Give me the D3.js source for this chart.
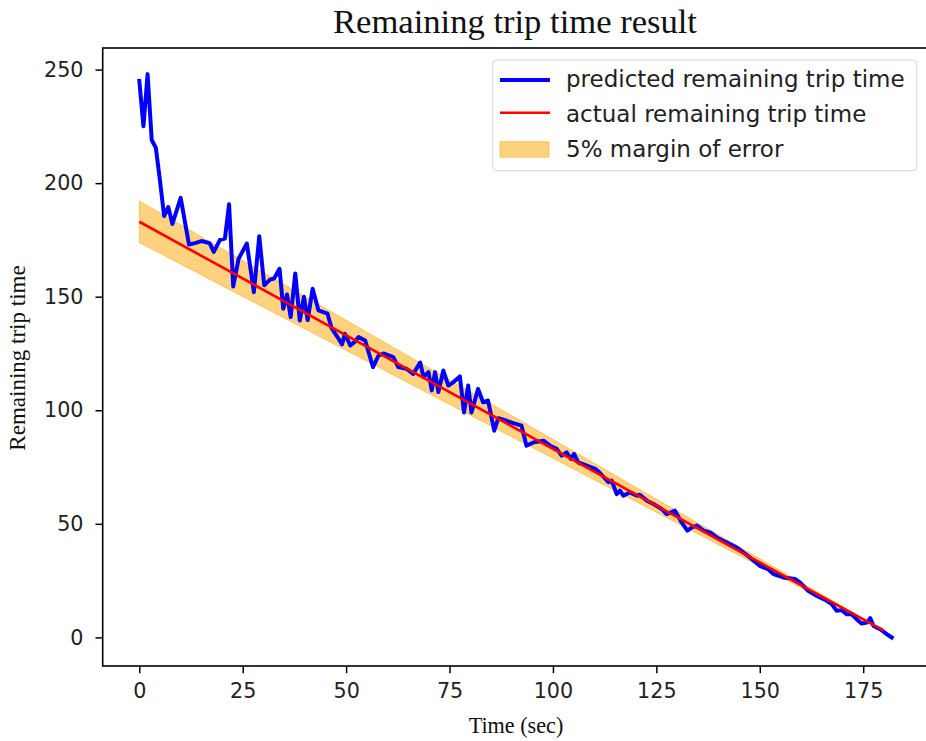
<!DOCTYPE html>
<html>
<head>
<meta charset="utf-8">
<script src="https://cdn.jsdelivr.net/npm/d3@7"></script>
<style>
  html, body { margin: 0; padding: 0; background: #fff; }
  svg { display: block; }
</style>
</head>
<body>
<svg id="chart" width="926" height="741"></svg>
<script>
// ---- data ----
const predictedTime = [0, 1, 2, 3, 4, 5, 6, 7, 8, 10, 12, 13.5, 15, 17, 18, 19.5, 20.7, 21.7, 22.7, 24, 26, 27.7, 29, 30.2, 31.6, 32.6, 33.9, 34.8, 35.7, 36.6, 37.7, 38.8, 39.8, 40.7, 41.9, 43.3, 44.5, 45.5, 46.5, 48, 49, 49.7, 51, 52, 53, 54.6, 56.5, 57.8, 59, 61.4, 62.6, 64.6, 66.2, 67.9, 68.7, 69.9, 70.7, 71.5, 72.3, 73.5, 74.7, 75.9, 77.5, 78.5, 79.5, 80.3, 81.9, 83.1, 84.3, 85.8, 86.8, 88.4, 90.4, 92.4, 93.6, 95.4, 97.7, 99.3, 100.9, 102.1, 103.3, 104.3, 105.1, 106.1, 108.2, 110.2, 111.2, 113.4, 114.2, 115.4, 116.2, 117, 118.6, 120.3, 121, 122.7, 124.3, 126.3, 127.5, 129.5, 131.1, 132.5, 133.6, 134.8, 136.4, 138, 139.6, 141.2, 142.8, 144.4, 146, 147.6, 150, 152, 153.3, 155.7, 158.5, 159.7, 161.7, 163.7, 166.2, 167.4, 168.6, 169.8, 171, 172.2, 173.4, 174.6, 175.9, 176.7, 177.5, 179.1, 180.7, 181.9];
const predictedValue = [245, 225, 248, 219, 215.5, 201, 185.5, 189.5, 182, 193.5, 173, 173.6, 174.5, 173.6, 169.7, 175, 175.6, 190.7, 154.5, 166.7, 173.4, 152, 176.6, 155, 157.5, 158, 162.3, 144.7, 151, 141, 160.2, 139.5, 150, 139.7, 153.5, 144, 143.2, 142.5, 136, 132, 129, 133.7, 128.5, 130, 132.2, 130.7, 119, 124, 125, 123.4, 119, 118.3, 116, 121, 114.6, 116.8, 108.7, 116.8, 108, 117.5, 110.9, 112.3, 114.9, 99, 110.9, 99, 109.4, 103.5, 104.3, 91, 96.5, 95.6, 94.3, 93.2, 84.4, 85.9, 86.6, 84.4, 83, 80, 81.5, 78.6, 80.8, 77, 75.6, 74.2, 72.7, 68.3, 69, 63.1, 64.6, 62.4, 63.8, 62.4, 62.8, 60.2, 58.7, 56.5, 54.3, 55.8, 50.6, 47, 48.4, 49.2, 47, 46.2, 44, 42.5, 41.1, 39.6, 37.4, 35.2, 31.5, 30, 27.9, 26.4, 25.7, 24.2, 20.5, 18.3, 16.1, 14.6, 11.7, 12, 10.2, 10.2, 8, 6.1, 6.5, 8.5, 5, 3.6, 1.4, 0];
// actual remaining trip time is a straight line: its two end points
const actualTime = [0, 180];
const actualValue = [183, 3];
const marginRate = 0.05;
const xTicks = [0, 25, 50, 75, 100, 125, 150, 175];
const yTicks = [0, 50, 100, 150, 200, 250];
const legendLabels = ["predicted remaining trip time", "actual remaining trip time", "5% margin of error"];

// ---- layout ----
const svg = d3.select("#chart");
const W = 926, H = 741;
const axL = 102.7, axR = 930.2, axT = 48, axB = 666;

const x = d3.scaleLinear().domain([-8.85, 191.2]).range([axL, axR]);
const y = d3.scaleLinear().domain([-12.6, 259.5]).range([axB, axT]);

const sans = "'DejaVu Sans', sans-serif";
const serif = "'Liberation Serif', 'Times New Roman', serif";

svg.append("rect").attr("width", W).attr("height", H).attr("fill", "#fff");

svg.append("defs").append("clipPath").attr("id", "clip")
  .append("rect").attr("x", axL).attr("y", axT).attr("width", axR - axL).attr("height", axB - axT);

const plot = svg.append("g").attr("clip-path", "url(#clip)");

const actual = actualTime.map((t, i) => ({ t, v: actualValue[i] }));
const predicted = predictedTime.map((t, i) => ({ t, v: predictedValue[i] }));

// band
plot.append("path")
  .datum(actual)
  .attr("d", d3.area().x(d => x(d.t)).y0(d => y(d.v * (1 - marginRate))).y1(d => y(d.v * (1 + marginRate))))
  .attr("fill", "orange").attr("fill-opacity", 0.5).attr("stroke", "orange").attr("stroke-opacity", 0.5).attr("stroke-width", 1);

// predicted
plot.append("path")
  .datum(predicted)
  .attr("d", d3.line().x(d => x(d.t)).y(d => y(d.v)))
  .attr("fill", "none").attr("stroke", "#0000ff").attr("stroke-width", 4)
  .attr("stroke-linejoin", "round").attr("stroke-linecap", "square");

// actual
plot.append("path")
  .datum(actual)
  .attr("d", d3.line().x(d => x(d.t)).y(d => y(d.v)))
  .attr("fill", "none").attr("stroke", "#ff0000").attr("stroke-width", 2.6);

// axes
const xAxis = d3.axisBottom(x).tickValues(xTicks).tickSize(7.2).tickPadding(10).tickFormat(d3.format("d"));
const yAxis = d3.axisLeft(y).tickValues(yTicks).tickSize(7.2).tickPadding(12).tickFormat(d3.format("d"));

const gx = svg.append("g").attr("transform", `translate(0,${axB})`).call(xAxis);
const gy = svg.append("g").attr("transform", `translate(${axL},0)`).call(yAxis);
[gx, gy].forEach(g => {
  g.select(".domain").remove();
  g.selectAll(".tick line").attr("stroke", "#000").attr("stroke-width", 1.5);
  g.selectAll(".tick text").attr("fill", "#222").style("font-family", sans).style("font-size", "20.7px");
});

// spines
const spine = svg.append("g").attr("fill", "none").attr("stroke", "#000").attr("stroke-width", 1.6);
spine.append("rect").attr("x", axL).attr("y", axT).attr("width", axR - axL).attr("height", axB - axT);

// title & labels
svg.append("text").attr("x", 515).attr("y", 33.3).attr("text-anchor", "middle")
  .style("font-family", serif).style("font-size", "34.6px").attr("fill", "#111")
  .text("Remaining trip time result");
svg.append("text").attr("x", 516).attr("y", 733).attr("text-anchor", "middle")
  .style("font-family", serif).style("font-size", "22.2px").attr("fill", "#111")
  .text("Time (sec)");
svg.append("text").attr("transform", `translate(25,${(axT + axB) / 2 + 1}) rotate(-90)`).attr("text-anchor", "middle")
  .style("font-family", serif).style("font-size", "23px").attr("fill", "#111")
  .text("Remaining trip time");

// legend
const lg = svg.append("g");
lg.append("rect").attr("x", 492.7).attr("y", 60).attr("width", 424).attr("height", 110.7)
  .attr("rx", 4).attr("fill", "#fff").attr("fill-opacity", 0.8).attr("stroke", "#d6d6d6").attr("stroke-width", 1);
const rows = [80, 112.8, 149.5];
const baselines = [86.7, 121.7, 157];
lg.append("line").attr("x1", 500).attr("x2", 550).attr("y1", rows[0]).attr("y2", rows[0])
  .attr("stroke", "#0000ff").attr("stroke-width", 4);
lg.append("line").attr("x1", 500).attr("x2", 550).attr("y1", rows[1]).attr("y2", rows[1])
  .attr("stroke", "#ff0000").attr("stroke-width", 2.6);
lg.append("rect").attr("x", 500).attr("y", 141.7).attr("width", 49).attr("height", 15.5)
  .attr("fill", "orange").attr("fill-opacity", 0.5).attr("stroke", "orange").attr("stroke-opacity", 0.5);
legendLabels.forEach((s, i) => {
  lg.append("text").attr("x", 566).attr("y", baselines[i])
    .style("font-family", sans).style("font-size", "23px").attr("fill", "#222").text(s);
});
</script>
</body>
</html>
